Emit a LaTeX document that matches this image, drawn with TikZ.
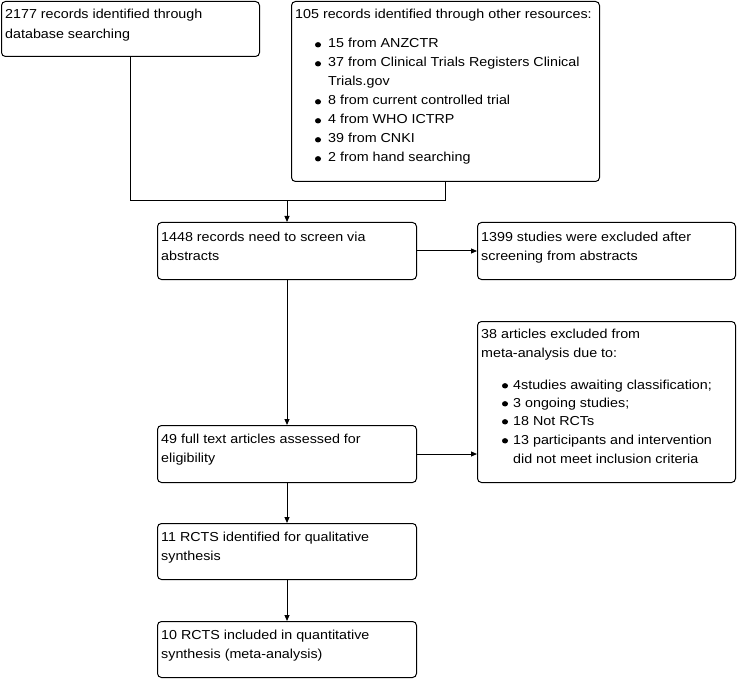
\documentclass[tikz,border=0pt]{standalone}
\usepackage{fontspec}
\setmainfont{Liberation Sans}[FakeStretch=1.1]
\usetikzlibrary{arrows.meta,calc}
\begin{document}
\begin{tikzpicture}[x=1pt,y=-1pt,
  box/.style={draw, line width=1pt, rounded corners=4pt, inner sep=0pt, anchor=north west},
  txt/.style={anchor=base west, inner sep=0pt, font=\fontsize{13}{19}\selectfont},
  conn/.style={line width=1pt},
  arr/.style={line width=1pt, -{Triangle[length=6pt,width=5pt]}},
  bul/.style={fill=black}]
\useasboundingbox (0,0) rectangle (739,679);

% boxes
\node[box, minimum width=258pt, minimum height=55pt] (A) at (1,1) {};
\node[box, minimum width=308pt, minimum height=180pt] (B) at (291,1) {};
\node[box, minimum width=259pt, minimum height=57pt] (C) at (157,222) {};
\node[box, minimum width=258pt, minimum height=57pt] (D) at (477,222) {};
\node[box, minimum width=258pt, minimum height=161pt] (E) at (477,321) {};
\node[box, minimum width=259pt, minimum height=57pt] (F) at (157,425) {};
\node[box, minimum width=259pt, minimum height=56pt] (G) at (157,523) {};
\node[box, minimum width=259pt, minimum height=56pt] (H) at (157,621) {};

% texts
\node[txt] (a1) at (5,19) {2177 records identified through};
\node[txt] (a2) at (5,39) {database searching};

\node[txt] (b0) at (295,19) {105 records identified through other resources:};
\node[txt] (b1) at (328,48) {15 from ANZCTR};
\node[txt] (b2) at (328,67) {37 from Clinical Trials Registers Clinical};
\node[txt] (b3) at (328,86) {Trials.gov};
\node[txt] (b4) at (328,105) {8 from current controlled trial};
\node[txt] (b5) at (328,124) {4 from WHO ICTRP};
\node[txt] (b6) at (328,143) {39 from CNKI};
\node[txt] (b7) at (328,162) {2 from hand searching};
\foreach \yy in {48,67,105,124,143,162} \fill[bul] (318,\yy-3.2) ellipse (3pt and 2.7pt);

\node[txt] (c1) at (161,241) {1448 records need to screen via};
\node[txt] (c2) at (161,260) {abstracts};

\node[txt] (d1) at (481,241) {1399 studies were excluded after};
\node[txt] (d2) at (481,260) {screening from abstracts};

\node[txt] (e0) at (481,338) {38 articles excluded from};
\node[txt] (e1) at (481,357) {meta-analysis due to:};
\node[txt] (e2) at (513,389) {4studies awaiting classification;};
\node[txt] (e3) at (513,407) {3 ongoing studies;};
\node[txt] (e4) at (513,425) {18 Not RCTs};
\node[txt] (e5) at (513,444) {13 participants and intervention};
\node[txt] (e6) at (513,463) {did not meet inclusion criteria};
\foreach \yy in {389,407,425,444} \fill[bul] (505,\yy-3.2) ellipse (3pt and 2.7pt);

\node[txt] (f1) at (161,443) {49 full text articles assessed for};
\node[txt] (f2) at (161,462) {eligibility};

\node[txt] (g1) at (161,541) {11 RCTS identified for qualitative};
\node[txt] (g2) at (161,560) {synthesis};

\node[txt] (h1) at (161,639) {10 RCTS included in quantitative};
\node[txt] (h2) at (161,658) {synthesis (meta-analysis)};

% connectors
\coordinate (j) at (287,201);
\draw[conn] (A.south) |- (B.south |- j) -- (B.south);
\draw[arr] (C.north |- j) -- (C.north);
\draw[arr] (C.east) -- (D.west);
\draw[arr] (C.south) -- (F.north);
\draw[arr] (F.east) -- (E.west |- F.east);
\draw[arr] (F.south) -- (G.north);
\draw[arr] (G.south) -- (H.north);
\end{tikzpicture}
\end{document}
